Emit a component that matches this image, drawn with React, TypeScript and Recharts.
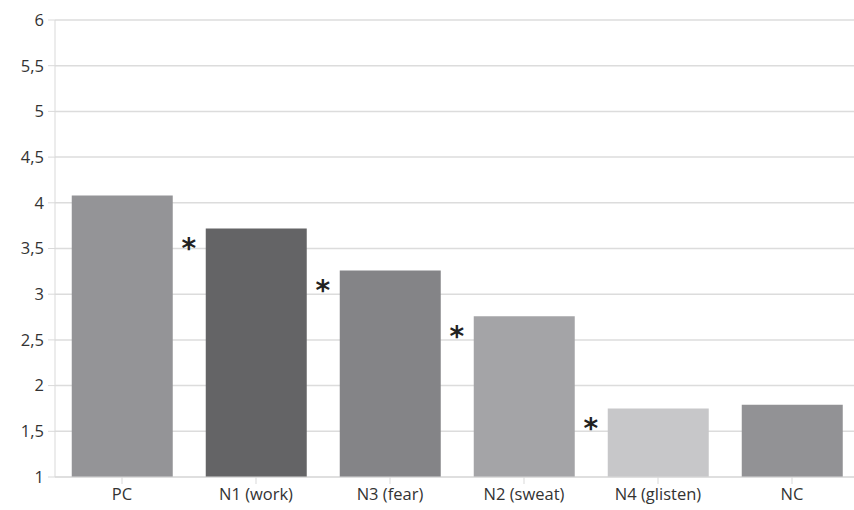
import { ComposedChart, Bar, XAxis, YAxis, CartesianGrid, Cell, LabelList } from "recharts";

const groups = ["PC", "N1 (work)", "N3 (fear)", "N2 (sweat)", "N4 (glisten)", "NC"];
const scores = [4.08, 3.72, 3.26, 2.76, 1.75, 1.79];
const signif = [false, true, true, true, true, false];
const shades = ["#949497", "#646466", "#848487", "#a4a4a7", "#c7c7c9", "#929295"];
const yTicks = [1, 1.5, 2, 2.5, 3, 3.5, 4, 4.5, 5, 5.5, 6];

const data = groups.map((g, i) => ({ g, v: scores[i], sig: signif[i] ? 1 : 0 }));

const tick = { fill: "#333", fontSize: 16.5, fontFamily: "Open Sans" };

const Star = (p: any) => {
  if (!p.value) return null;
  return (
    <text x={p.x - 17} y={p.y + 30} textAnchor="middle" fontSize={28} fontWeight="bold" fontFamily="DejaVu Sans" fill="#222">
      *
    </text>
  );
};

export default function App() {
  return (
    <div style={{ position: "absolute", left: 0, top: 0, width: 854, height: 510, overflow: "hidden", background: "#fff" }}>
      <ComposedChart width={860} height={510} data={data} barCategoryGap="12.5%" margin={{ top: 20, right: 1, left: 0, bottom: 0 }}>
        <CartesianGrid vertical={false} stroke="#dcdcdc" strokeWidth={1.5} />
        <XAxis dataKey="g" tick={tick} height={33} stroke="#d9d9d9" tickLine={{ stroke: "#d9d9d9" }} interval={0} tickSize={7} tickMargin={4} />
        <YAxis domain={[1, 6]} ticks={yTicks} tick={tick} width={55} stroke="#d9d9d9" tickSize={7} tickMargin={4}
          tickFormatter={(v: number) => String(v).replace(".", ",")} />
        <Bar dataKey="v" isAnimationActive={false}>
          {data.map((d, i) => <Cell key={i} fill={shades[i]} />)}
          <LabelList dataKey="sig" content={Star} />
        </Bar>
      </ComposedChart>
    </div>
  );
}
